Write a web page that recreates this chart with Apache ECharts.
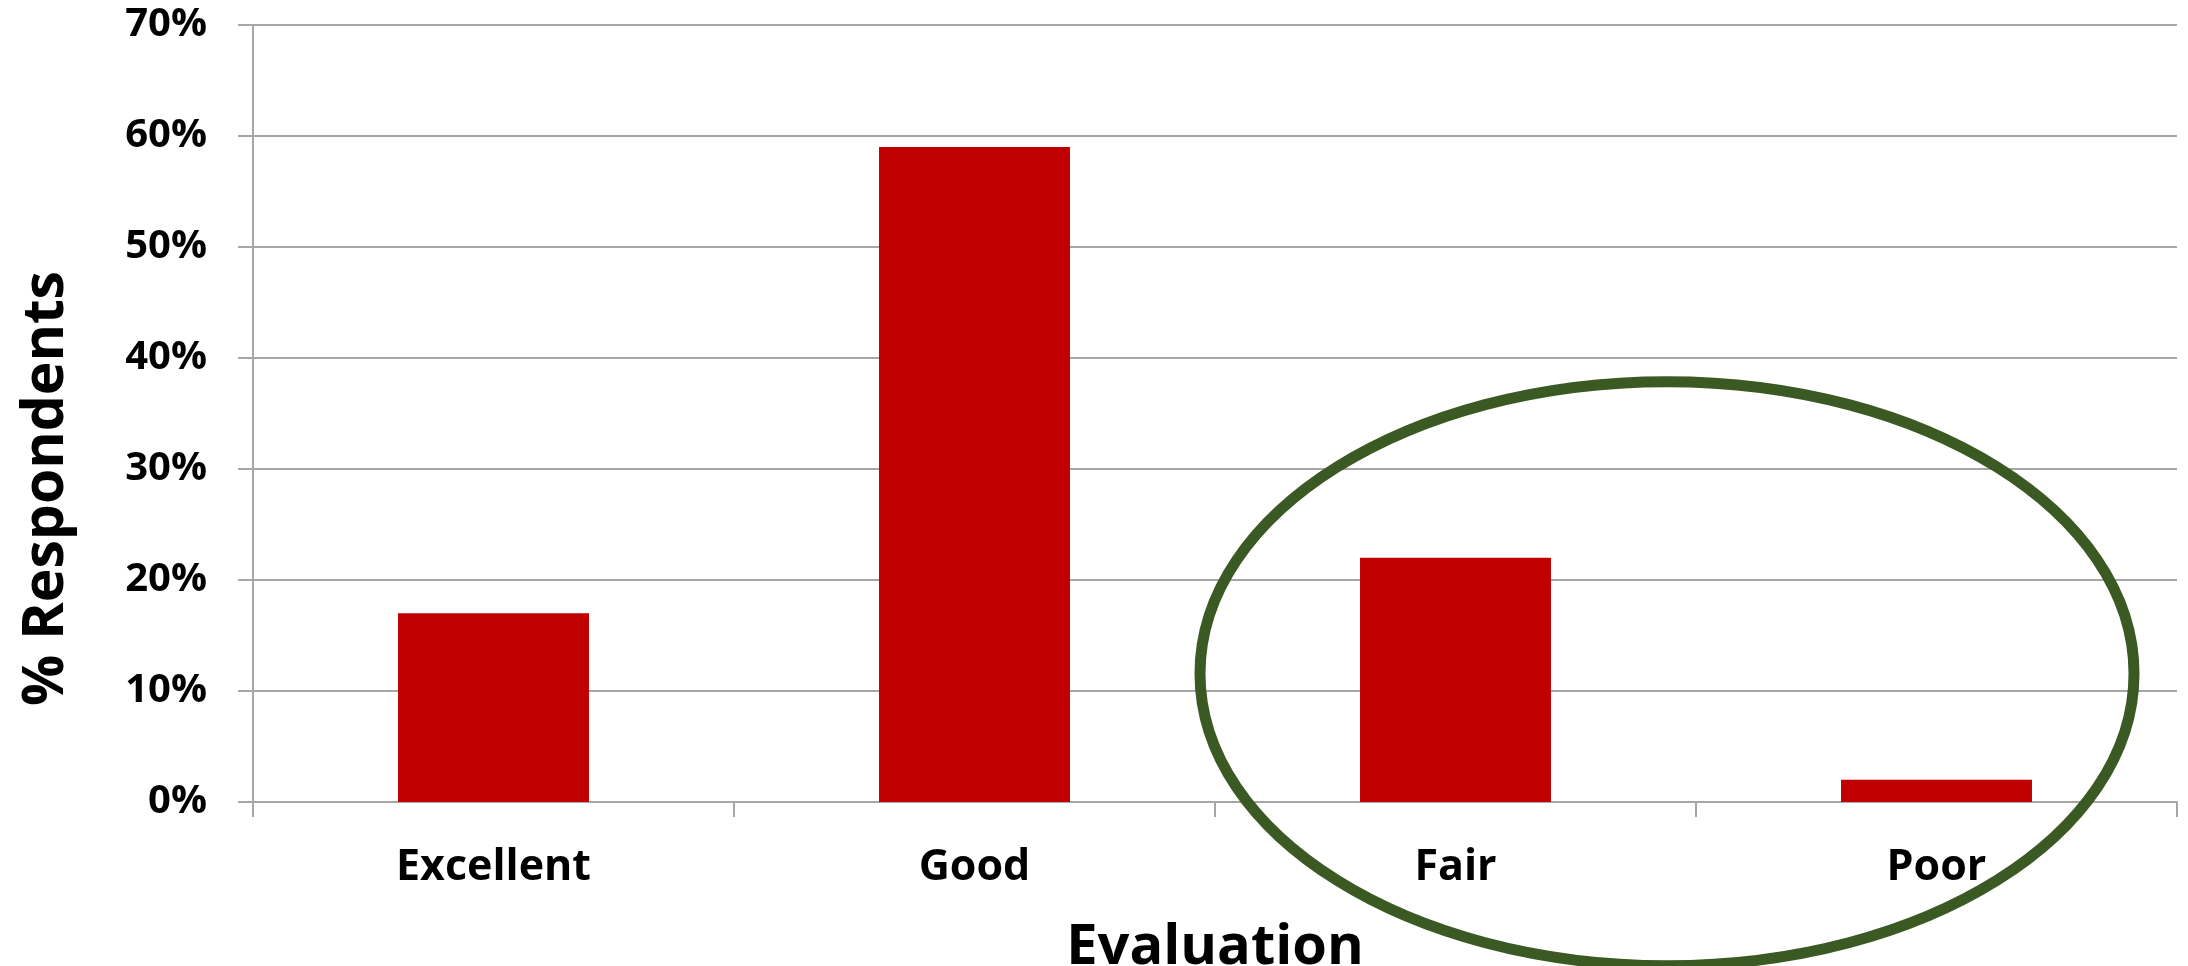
<!DOCTYPE html>
<html>
<head>
<meta charset="utf-8">
<script src="https://cdn.jsdelivr.net/npm/echarts@6/dist/echarts.min.js"></script>
<style>
html,body{margin:0;padding:0;background:#fff;}
#chart{width:2188px;height:966px;}
</style>
</head>
<body>
<div id="chart"></div>
<script>
const categories = ['Excellent', 'Good', 'Fair', 'Poor'];
const percentValues = [0.17, 0.59, 0.22, 0.02];
const yTicks = [0, 0.1, 0.2, 0.3, 0.4, 0.5, 0.6, 0.7];

const FONT = '"Open Sans", "DejaVu Sans", sans-serif';
const chart = echarts.init(document.getElementById('chart'), null, {renderer: 'canvas'});

const option = {
  animation: false,
  backgroundColor: '#ffffff',
  grid: {left: 253, right: 11, top: 25, bottom: 164, containLabel: false, outerBoundsMode: 'none'},
  xAxis: {
    type: 'category',
    data: categories,
    name: 'Evaluation',
    nameLocation: 'middle',
    nameGap: 118,
    nameTextStyle: {fontFamily: FONT, fontWeight: 'bold', fontSize: 56, color: '#000'},
    axisLine: {show: true, lineStyle: {color: '#a6a6a6', width: 2}},
    axisTick: {show: true, length: 15, lineStyle: {color: '#a6a6a6', width: 2}},
    axisLabel: {fontFamily: FONT, fontWeight: 'bold', fontSize: 43, color: '#000', margin: 44}
  },
  yAxis: {
    type: 'value',
    min: yTicks[0],
    max: yTicks[yTicks.length - 1],
    interval: 0.1,
    name: '% Respondents',
    nameLocation: 'middle',
    nameGap: 178,
    nameRotate: 90,
    nameTextStyle: {fontFamily: FONT, fontWeight: 'bold', fontSize: 57, color: '#000', padding: [0, 150, 0, 0]},
    axisLine: {show: true, lineStyle: {color: '#a6a6a6', width: 2}},
    axisTick: {show: true, length: 15, lineStyle: {color: '#a6a6a6', width: 2}},
    splitLine: {show: true, lineStyle: {color: '#a6a6a6', width: 2}},
    axisLabel: {
      fontFamily: FONT, fontWeight: 'bold', fontSize: 40, color: '#000', margin: 46,
      formatter: v => Math.round(v * 100) + '%'
    }
  },
  series: [{
    type: 'bar',
    data: percentValues,
    barWidth: '39.7%',
    itemStyle: {color: '#c00000'}
  }]
};
chart.setOption(option);

// Hand-drawn highlight ellipse around Fair and Poor
const pFair = chart.convertToPixel({xAxisIndex: 0}, 'Fair');
const pPoor = chart.convertToPixel({xAxisIndex: 0}, 'Poor');
const cyPix = chart.convertToPixel({yAxisIndex: 0}, 0.1156);
const cx = (pFair + pPoor) / 2 - 29;
chart.setOption({
  graphic: [{
    type: 'ellipse',
    shape: {cx: cx, cy: cyPix, rx: 467, ry: 292},
    style: {fill: 'none', stroke: '#3b5a23', lineWidth: 11},
    z: 100
  }]
});
</script>
</body>
</html>
